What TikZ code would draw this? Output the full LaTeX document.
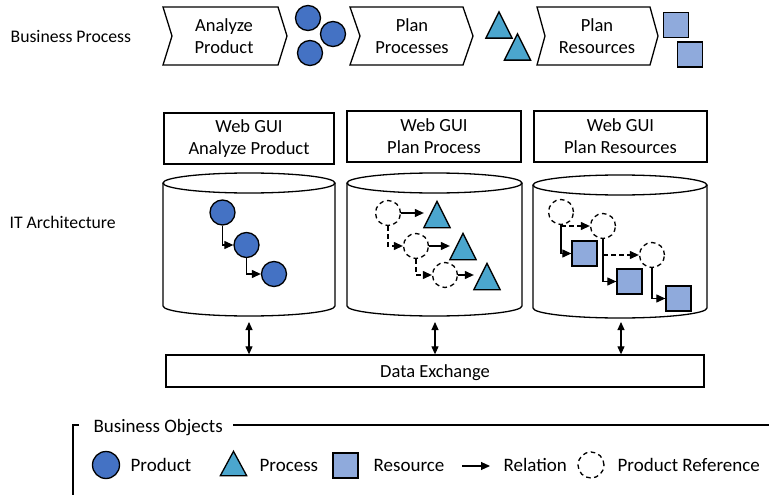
\documentclass[tikz,border=0pt]{standalone}
\usepackage{fontspec}
\setmainfont{Carlito}
\usetikzlibrary{arrows.meta}
\definecolor{prodblue}{RGB}{68,114,196}
\definecolor{procblue}{RGB}{75,166,206}
\definecolor{resblue}{RGB}{143,170,220}
\begin{document}
\begin{tikzpicture}[x=1pt,y=-1pt,line width=1.3pt,
  lbl/.style={font=\fontsize{17.7}{21}\selectfont, anchor=base west, inner sep=0},
  txt/.style={font=\fontsize{18.5}{22}\selectfont, align=center, inner sep=0},
  leg/.style={font=\fontsize{19}{22}\selectfont, anchor=base west, inner sep=0},
  chev/.style={draw, line join=miter},
  gui/.style={draw, inner sep=0},
  prod/.style={circle, draw, fill=prodblue, minimum size=25pt, inner sep=0},
  pref/.style={circle, draw, dash pattern=on 4.5pt off 3.5pt, minimum size=25pt, inner sep=0},
  res/.style={draw, fill=resblue, minimum size=25pt, inner sep=0},
  procbox/.style={rectangle, minimum width=25pt, minimum height=25pt, inner sep=0},
  proc/.style={draw, fill=procblue, line join=miter},
  rel/.style={-{Triangle[length=9pt,width=8pt]}, line width=1.1pt},
  dashrel/.style={rel, dash pattern=on 4.5pt off 3.5pt},
  bidir/.style={{Triangle[length=8pt,width=7pt]}-{Triangle[length=8pt,width=7pt]}, line width=1.1pt},
  cyl/.style={draw},
]
\fill[white] (0,0) rectangle (769,495);
\useasboundingbox (0,0) rectangle (769,495);

% ---------- left labels ----------
\node[lbl] (lbp) at (10,43) {Business Process};
\node[lbl] (lit) at (9,228) {IT Architecture};

% ---------- business process chevrons ----------
\draw[chev] (163,7) -- (278,7) -- (287,36) -- (278,65) -- (163,65) -- (172,36) -- cycle;
\node[txt] (c1) at (224,36) {Analyze\\Product};
\draw[chev] (350,7) -- (463,7) -- (473,36) -- (463,65) -- (350,65) -- (360,36) -- cycle;
\node[txt] (c2) at (412,36) {Plan\\Processes};
\draw[chev] (537,7) -- (650,7) -- (658,36) -- (650,65) -- (537,65) -- (545,36) -- cycle;
\node[txt] (c3) at (597,36) {Plan\\Resources};

% objects between chevrons
\node[prod] (bp1) at (308,18) {};
\node[prod] (bp2) at (333,34) {};
\node[prod] (bp3) at (310,53) {};
\node[procbox] (bt1) at (499,25) {};
\draw[proc] (bt1.south west) -- (bt1.north) -- (bt1.south east) -- cycle;
\node[procbox] (bt2) at (517.5,47) {};
\draw[proc] (bt2.south west) -- (bt2.north) -- (bt2.south east) -- cycle;
\node[res] (bs1) at (676,25) {};
\node[res] (bs2) at (690,54.5) {};

% ---------- Web GUI boxes ----------
\node[gui, minimum width=170pt, minimum height=51pt] (g1) at (249,138.5) {};
\node[txt] at (g1) {Web GUI\\Analyze Product};
\node[gui, minimum width=174pt, minimum height=51pt] (g2) at (434,136.5) {};
\node[txt] at (g2) {Web GUI\\Plan Process};
\node[gui, minimum width=173pt, minimum height=51pt] (g3) at (620.5,136.5) {};
\node[txt] at (g3) {Web GUI\\Plan Resources};

% ---------- cylinders ----------
\draw[cyl] (249,183) ellipse [x radius=86, y radius=10];
\draw[cyl] (163,183) -- (163,306) arc[start angle=180, end angle=360, x radius=86pt, y radius=10pt] -- (335,183);
\draw[cyl] (434.5,183) ellipse [x radius=87.5, y radius=10];
\draw[cyl] (347,183) -- (347,306) arc[start angle=180, end angle=360, x radius=87.5pt, y radius=10pt] -- (522,183);
\draw[cyl] (620,185) ellipse [x radius=87, y radius=10];
\draw[cyl] (533,185) -- (533,308) arc[start angle=180, end angle=360, x radius=87pt, y radius=10pt] -- (707,185);

% cylinder 1: products
\node[prod] (a1) at (222.5,212.5) {};
\node[prod] (a2) at (246.5,245) {};
\node[prod] (a3) at (274,274) {};
\draw[rel] (a1.south) |- (a2.west);
\draw[rel] (a2.south) |- (a3.west);

% cylinder 2: product references and processes
\node[pref] (d1) at (388,213) {};
\node[pref] (d2) at (416,246) {};
\node[pref] (d3) at (445,275) {};
\node[procbox] (t1) at (437,214.5) {};
\draw[proc] (t1.south west) -- (t1.north) -- (t1.south east) -- cycle;
\node[procbox] (t2) at (463,246.5) {};
\draw[proc] (t2.south west) -- (t2.north) -- (t2.south east) -- cycle;
\node[procbox] (t3) at (487,276.5) {};
\draw[proc] (t3.south west) -- (t3.north) -- (t3.south east) -- cycle;
\draw[rel] (d1.east) -- (d1.east -| t1.west);
\draw[rel] (d2.east) -- (d2.east -| t2.west);
\draw[rel] (d3.east) -- (d3.east -| t3.west);
\draw[dashrel] (d1.south) |- (d2.west);
\draw[dashrel] (d2.south) |- (d3.west);

% cylinder 3: product references and resources
\node[pref] (e1) at (561,212) {};
\node[pref] (e2) at (603,226) {};
\node[pref] (e3) at (652,255) {};
\node[res] (s1) at (584.5,253.5) {};
\node[res] (s2) at (629.5,281.5) {};
\node[res] (s3) at (678.5,298.5) {};
\draw[rel] (e1.south) |- (s1.west);
\draw[rel] (e2.south) |- (s2.west);
\draw[rel] (e3.south) |- (s3.west);
\draw[dashrel] (e1.south |- e2.west) -- (e2.west);
\draw[dashrel] (e2.south |- e3.west) -- (e3.west);

% ---------- data exchange ----------
\node[gui, minimum width=538pt, minimum height=32pt] (dx) at (435,371) {};
\node[txt, anchor=base] at (435,377) {Data Exchange};
\coordinate (k1) at (249,322);
\coordinate (k2) at (435,322);
\coordinate (k3) at (621,322);
\draw[bidir] (k1) -- (k1 |- dx.north);
\draw[bidir] (k2) -- (k2 |- dx.north);
\draw[bidir] (k3) -- (k3 |- dx.north);

% ---------- legend ----------
\node[leg] (bo) at (93,432) {Business Objects};
\coordinate (f1) at (79,425);
\coordinate (f2) at (73,425);
\coordinate (f3) at (73,495);
\coordinate (f4) at (233,425);
\coordinate (f5) at (769,425);
\draw (f1) -- (f2) -- (f3);
\draw (f4) -- (f5);

\node[prod, minimum size=27pt] (lp) at (106,465) {};
\node[leg] (lpt) at (130,471) {Product};
\node[procbox, minimum height=23pt] (lt) at (233.5,463.5) {};
\draw[proc] (lt.south west) -- (lt.north) -- (lt.south east) -- cycle;
\node[leg] (ltt) at (259,471) {Process};
\node[res] (ls) at (345.5,465.5) {};
\node[leg] (lst) at (373,471) {Resource};
\coordinate (la1) at (462,466);
\coordinate (la2) at (490,466);
\draw[rel] (la1) -- (la2);
\node[leg] (lat) at (503,471) {Relation};
\node[pref, minimum size=26pt] (lr) at (591,465) {};
\node[leg] (lrt) at (617,471) {Product Reference};
\end{tikzpicture}
\end{document}
